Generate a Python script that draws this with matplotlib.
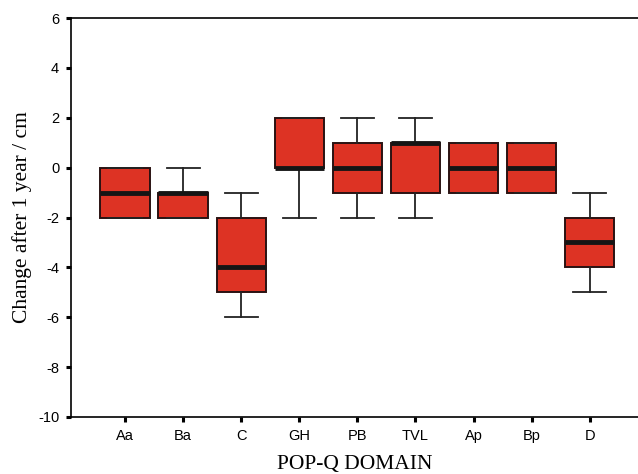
import matplotlib.pyplot as plt

plt.rcParams['axes.unicode_minus'] = False

# POP-Q domains and box statistics (cm)
domains = ['Aa', 'Ba', 'C', 'GH', 'PB', 'TVL', 'Ap', 'Bp', 'D']
q1 = [-2, -2, -5, 0, -1, -1, -1, -1, -4]
med = [-1, -1, -4, 0, 0, 1, 0, 0, -3]
q3 = [0, -1, -2, 2, 1, 1, 1, 1, -2]
wlo = [-2, -2, -6, -2, -2, -2, -1, -1, -5]
whi = [0, 0, -1, 2, 2, 2, 1, 1, -1]

stats = []
for i, d in enumerate(domains):
    stats.append(dict(label=d, q1=q1[i], med=med[i], q3=q3[i],
                      whislo=wlo[i], whishi=whi[i], fliers=[]))

fig = plt.figure(figsize=(6.38, 4.74), dpi=100)
ax = fig.add_axes([71 / 638, 57 / 474, 1 - 71 / 638, 399 / 474])

ax.bxp(stats, positions=range(1, 10), widths=0.85, capwidths=0.57,
       patch_artist=True, showfliers=False,
       boxprops=dict(facecolor='#dd3324', edgecolor='#2a1212', linewidth=1.4),
       medianprops=dict(color='#151515', linewidth=3.5, solid_capstyle='butt'),
       whiskerprops=dict(color='#222222', linewidth=1.3),
       capprops=dict(color='#222222', linewidth=1.3))

ax.set_xlim(0.07, 9.83)
ax.set_ylim(-10, 6)
ax.set_yticks(range(-10, 7, 2))
ax.set_xticks(range(1, 10))
ax.set_xticklabels(domains)

for lab in ax.get_xticklabels() + ax.get_yticklabels():
    lab.set_family('Liberation Sans')
    lab.set_fontsize(10.5)
ax.tick_params(direction='out', length=3.5, width=2.2, color='black', pad=5)

ax.spines['right'].set_visible(False)
for s in ['left', 'top', 'bottom']:
    ax.spines[s].set_linewidth(1.2)

ax.set_xlabel('POP-Q DOMAIN', family='Liberation Serif', fontsize=15.5, labelpad=9)
ax.set_ylabel('Change after 1 year / cm', family='Liberation Serif', fontsize=15.5, labelpad=4)

fig.savefig('out.png', dpi=100)
